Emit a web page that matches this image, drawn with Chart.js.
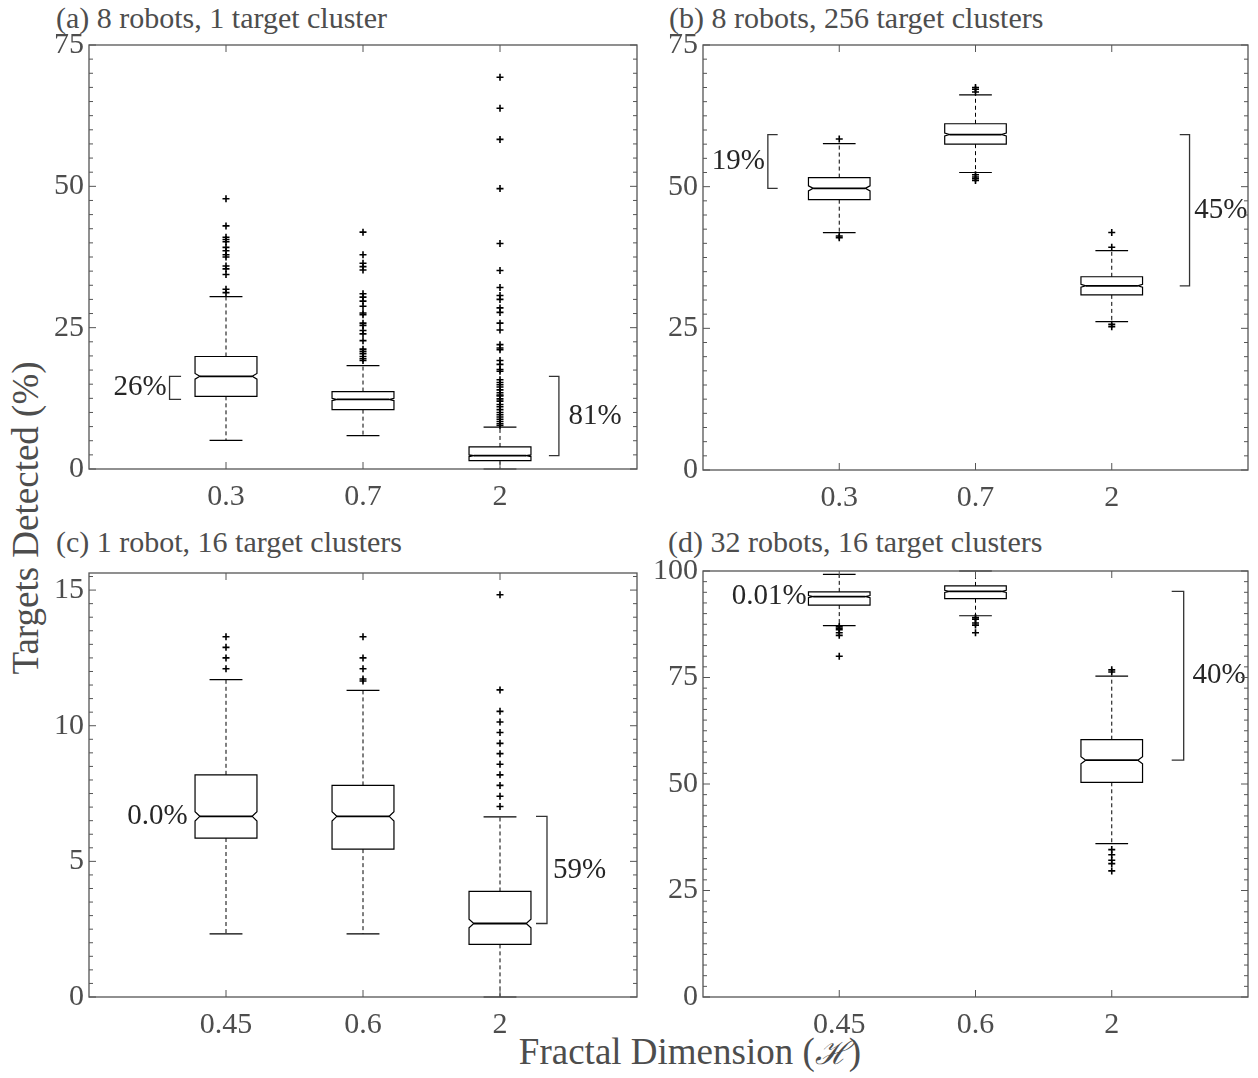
<!DOCTYPE html>
<html>
<head>
<meta charset="utf-8">
<script src="https://cdn.jsdelivr.net/npm/chart.js@4.4.1/dist/chart.umd.min.js"></script>
<style>
  body { margin: 0; background: #fff; }
  #page { position: relative; width: 1258px; height: 1078px; overflow: hidden;
          font-family: 'Liberation Serif', 'Times New Roman', serif; color: #4d4d4d; }
  .panel { position: absolute; }
  .ttl { position: absolute; font-size: 30px; line-height: 34px; white-space: nowrap; }
  .axt { position: absolute; font-size: 37px; line-height: 44px; white-space: nowrap; }
</style>
</head>
<body>
<div id="page">
  <div class="ttl" style="left:56px;top:1px">(a) 8 robots, 1 target cluster</div>
  <div class="ttl" style="left:669px;top:1px">(b) 8 robots, 256 target clusters</div>
  <div class="ttl" style="left:56px;top:525px">(c) 1 robot, 16 target clusters</div>
  <div class="ttl" style="left:668px;top:525px">(d) 32 robots, 16 target clusters</div>
  <div class="axt" style="left:26px;top:518px;transform:translate(-50%,-50%) rotate(-90deg)">Targets Detected (%)</div>
  <div class="axt" style="left:690px;top:1052px;transform:translate(-50%,-50%)">Fractal Dimension (<span style="font-family:'DejaVu Serif',serif;font-style:italic;font-size:32px">ℋ</span>)</div>

  <div class="panel" style="left:0;top:0"><canvas id="cA" width="660" height="520"></canvas></div>
  <div class="panel" style="left:640px;top:0"><canvas id="cB" width="618" height="520"></canvas></div>
  <div class="panel" style="left:0;top:520px"><canvas id="cC" width="660" height="540"></canvas></div>
  <div class="panel" style="left:640px;top:520px"><canvas id="cD" width="618" height="540"></canvas></div>
</div>

<script>
// ---- data ----
// (a) 8 robots, 1 target cluster
const catsA = ['0.3', '0.7', '2'];
const q1A = [12.85, 10.5, 1.47];
const medA = [16.4, 12.3, 2.36];
const q3A = [19.9, 13.7, 3.9];
const whisLoA = [5.07, 5.9, 0];
const whisHiA = [30.5, 18.3, 7.4];
const notchLoA = [15.9, 12.1, 2.2];
const notchHiA = [16.9, 12.5, 2.5];
const outA = [
  [47.8, 43.0, 41.0, 40.6, 40.2, 39.2, 38.6, 37.9, 37.5, 35.9, 35.4, 34.4, 31.8, 31.2],
  [41.9, 37.9, 36.4, 35.8, 35.2, 31.0, 30.4, 29.7, 28.8, 27.6, 27.3, 25.8, 25.4, 24.5, 23.9, 22.7,
   21.2, 20.8, 20.4, 19.9, 19.5, 19.2],
  [69.3, 63.8, 58.3, 49.6, 39.9, 35.1, 32.1, 30.7, 30.0, 28.5, 27.7, 25.8, 24.6, 22.0, 21.4, 21.1,
   19.2, 18.5, 17.6, 17.3, 15.8, 15.3, 14.9, 14.5, 14.0, 13.5, 13.1, 12.9, 12.4, 12.0, 11.4, 11.0,
   10.5, 10.0, 9.6, 9.2, 8.8, 8.4, 8.0, 7.7]
];
const notesA = ['26%', '81%'];

// (b) 8 robots, 256 target clusters
const catsB = ['0.3', '0.7', '2'];
const q1B = [47.7, 57.5, 30.9];
const medB = [49.7, 59.2, 32.5];
const q3B = [51.6, 61.1, 34.1];
const whisLoB = [41.9, 52.5, 26.2];
const whisHiB = [57.6, 66.2, 38.7];
const notchLoB = [49.25, 58.95, 32.25];
const notchHiB = [50.15, 59.45, 32.75];
const outB = [
  [58.4, 41.3, 41.0],
  [67.5, 67.2, 66.7, 52.1, 51.7, 51.4, 51.1],
  [41.9, 39.3, 25.7, 25.3]
];
const notesB = ['19%', '45%'];

// (c) 1 robot, 16 target clusters
const catsC = ['0.45', '0.6', '2'];
const q1C = [5.86, 5.45, 1.94];
const medC = [6.66, 6.66, 2.71];
const q3C = [8.19, 7.8, 3.89];
const whisLoC = [2.33, 2.33, 0];
const whisHiC = [11.7, 11.3, 6.64];
const notchLoC = [6.49, 6.49, 2.55];
const notchHiC = [6.83, 6.83, 2.87];
const outC = [
  [13.28, 12.89, 12.5, 12.1],
  [13.28, 12.5, 12.1, 11.72, 11.65],
  [14.83, 11.32, 10.53, 10.14, 9.75, 9.35, 8.97, 8.58, 8.19, 7.8, 7.4, 7.02]
];
const notesC = ['0.0%', '59%'];

// (d) 32 robots, 16 target clusters
const catsD = ['0.45', '0.6', '2'];
const q1D = [92.0, 93.5, 50.4];
const medD = [94.0, 95.2, 55.6];
const q3D = [95.1, 96.5, 60.4];
const whisLoD = [87.2, 89.5, 36.0];
const whisHiD = [99.2, 100, 75.3];
const notchLoD = [93.75, 94.95, 54.75];
const notchHiD = [94.25, 95.45, 56.4];
const outD = [
  [87.0, 86.6, 86.2, 85.5, 84.9, 80.0],
  [89.1, 88.7, 87.8, 87.3, 85.5],
  [76.8, 76.3, 34.6, 33.4, 32.1, 31.3, 29.6]
];
const notesD = ['0.01%', '40%'];

const yTicksA = [0, 25, 50, 75];
const yTicksB = [0, 25, 50, 75];
const yTicksC = [0, 5, 10, 15];
const yTicksD = [0, 25, 50, 75, 100];

// ---- drawing ----
const tickFont = { family: "'Liberation Serif', 'Times New Roman', serif", size: 30 };
const textCol = '#4d4d4d';

const boxPlugin = p => ({
  id: 'boxes',
  afterDatasetsDraw(chart) {
    const { ctx, scales: { x, y } } = chart;
    const ux = x.getPixelForValue(1) - x.getPixelForValue(0);
    const line = (x1, y1, x2, y2) => { ctx.beginPath(); ctx.moveTo(x1, y1); ctx.lineTo(x2, y2); ctx.stroke(); };
    ctx.save();
    ctx.strokeStyle = '#000';
    p.cats.forEach((c, i) => {
      const cx = x.getPixelForValue(i + 1);
      const hw = 0.226 * ux, cw = 0.12 * ux, nd = 0.035 * ux;
      const yq1 = y.getPixelForValue(p.q1[i]), yq3 = y.getPixelForValue(p.q3[i]);
      const ymed = y.getPixelForValue(p.med[i]);
      const ylo = y.getPixelForValue(p.lo[i]), yhi = y.getPixelForValue(p.hi[i]);
      const ynlo = y.getPixelForValue(p.nlo[i]), ynhi = y.getPixelForValue(p.nhi[i]);
      ctx.lineWidth = 1;
      ctx.setLineDash([4, 3]);
      line(cx, yq3, cx, yhi);
      line(cx, yq1, cx, ylo);
      ctx.setLineDash([]);
      ctx.lineWidth = 1.2;
      line(cx - cw, yhi, cx + cw, yhi);
      line(cx - cw, ylo, cx + cw, ylo);
      ctx.beginPath();
      ctx.moveTo(cx - hw, yq1);
      ctx.lineTo(cx - hw, ynlo);
      ctx.lineTo(cx - hw + nd, ymed);
      ctx.lineTo(cx - hw, ynhi);
      ctx.lineTo(cx - hw, yq3);
      ctx.lineTo(cx + hw, yq3);
      ctx.lineTo(cx + hw, ynhi);
      ctx.lineTo(cx + hw - nd, ymed);
      ctx.lineTo(cx + hw, ynlo);
      ctx.lineTo(cx + hw, yq1);
      ctx.closePath();
      ctx.stroke();
      ctx.lineWidth = 1.8;
      line(cx - hw + nd, ymed, cx + hw - nd, ymed);
    });

    // brackets and percentage labels
    ctx.strokeStyle = '#333';
    ctx.lineWidth = 1.3;
    ctx.fillStyle = '#262626';
    ctx.font = "29px 'Liberation Serif', 'Times New Roman', serif";
    ctx.textBaseline = 'middle';
    p.notes.forEach(n => {
      let ym;
      if (n.to !== undefined) {
        const y1 = y.getPixelForValue(p.med[n.from]), y2 = y.getPixelForValue(p.med[n.to]);
        const bx = x.getPixelForValue(n.x), tx = x.getPixelForValue(n.x + n.tick);
        ctx.beginPath();
        ctx.moveTo(tx, y1); ctx.lineTo(bx, y1); ctx.lineTo(bx, y2); ctx.lineTo(tx, y2);
        ctx.stroke();
        ym = (y1 + y2) / 2;
      } else {
        ym = y.getPixelForValue(p.med[n.from]);
      }
      ctx.textAlign = n.align;
      ctx.fillText(n.text, x.getPixelForValue(n.lx), ym);
    });
    ctx.restore();
  },
  afterDraw(chart) {
    const { ctx, chartArea: a, scales: { x, y } } = chart;
    const line = (x1, y1, x2, y2) => { ctx.beginPath(); ctx.moveTo(x1, y1); ctx.lineTo(x2, y2); ctx.stroke(); };
    ctx.save();
    ctx.strokeStyle = '#555';
    ctx.lineWidth = 1.3;
    ctx.strokeRect(a.left, a.top, a.right - a.left, a.bottom - a.top);
    ctx.lineWidth = 1;
    p.yTicks.forEach(v => {
      const py = y.getPixelForValue(v);
      line(a.left, py, a.left + 7, py);
      line(a.right, py, a.right - 7, py);
    });
    const step = (p.yTicks[1] - p.yTicks[0]) / 10;
    for (let k = 1; k * step < p.yMax; k++) {
      if (k % 10 === 0) continue;
      const py = y.getPixelForValue(k * step);
      line(a.left, py, a.left + 4, py);
      line(a.right, py, a.right - 4, py);
    }
    p.cats.forEach((c, i) => {
      const px = x.getPixelForValue(i + 1);
      line(px, a.bottom, px, a.bottom - 7);
      line(px, a.top, px, a.top + 7);
    });
    ctx.restore();
  }
});

function makePanel(id, p) {
  const pts = [];
  p.out.forEach((list, i) => list.forEach(v => pts.push({ x: i + 1, y: v })));
  new Chart(document.getElementById(id), {
    type: 'scatter',
    data: {
      datasets: [{
        data: pts,
        pointStyle: 'cross',
        pointRadius: 3.5,
        borderColor: '#000',
        backgroundColor: '#000',
        borderWidth: 1.6
      }]
    },
    options: {
      responsive: false,
      animation: false,
      events: [],
      layout: { padding: p.pad },
      plugins: { legend: { display: false }, tooltip: { enabled: false } },
      scales: {
        x: {
          type: 'linear', min: 0, max: 4,
          grid: { display: false, drawTicks: false }, border: { display: false },
          afterBuildTicks: s => { s.ticks = p.cats.map((c, i) => ({ value: i + 1 })); },
          afterFit: s => { s.height = 50; },
          ticks: { callback: v => p.cats[v - 1], font: tickFont, color: textCol, padding: 10,
                   maxRotation: 0, autoSkip: false }
        },
        y: {
          min: 0, max: p.yMax,
          grid: { display: false, drawTicks: false }, border: { display: false },
          afterBuildTicks: s => { s.ticks = p.yTicks.map(v => ({ value: v })); },
          afterFit: s => { s.width = 60; },
          ticks: { font: tickFont, color: textCol, padding: 5 }
        }
      }
    },
    plugins: [boxPlugin(p)]
  });
}

makePanel('cA', {
  cats: catsA, q1: q1A, med: medA, q3: q3A, lo: whisLoA, hi: whisHiA, nlo: notchLoA, nhi: notchHiA, out: outA,
  yTicks: yTicksA, yMax: 75,
  pad: { left: 29, top: 45, right: 23, bottom: 1 },
  notes: [
    { from: 0, to: 1, text: notesA[0], x: 0.588, tick: 0.084, lx: 0.567, align: 'right' },
    { from: 0, to: 2, text: notesA[1], x: 3.43, tick: -0.073, lx: 3.50, align: 'left' }
  ]
});

makePanel('cB', {
  cats: catsB, q1: q1B, med: medB, q3: q3B, lo: whisLoB, hi: whisHiB, nlo: notchLoB, nhi: notchHiB, out: outB,
  yTicks: yTicksB, yMax: 75,
  pad: { left: 3, top: 45, right: 10, bottom: 0 },
  notes: [
    { from: 1, to: 0, text: notesB[0], x: 0.476, tick: 0.072, lx: 0.455, align: 'right' },
    { from: 1, to: 2, text: notesB[1], x: 3.571, tick: -0.072, lx: 3.606, align: 'left' }
  ]
});

makePanel('cC', {
  cats: catsC, q1: q1C, med: medC, q3: q3C, lo: whisLoC, hi: whisHiC, nlo: notchLoC, nhi: notchHiC, out: outC,
  yTicks: yTicksC, yMax: 15.63,
  pad: { left: 29, top: 53, right: 23, bottom: 13 },
  notes: [
    { from: 0, text: notesC[0], lx: 0.721, align: 'right' },
    { from: 0, to: 2, text: notesC[1], x: 3.343, tick: -0.08, lx: 3.387, align: 'left' }
  ]
});

makePanel('cD', {
  cats: catsD, q1: q1D, med: medD, q3: q3D, lo: whisLoD, hi: whisHiD, nlo: notchLoD, nhi: notchHiD, out: outD,
  yTicks: yTicksD, yMax: 100,
  pad: { left: 3, top: 51, right: 10, bottom: 13 },
  notes: [
    { from: 0, text: notesD[0], lx: 0.761, align: 'right' },
    { from: 1, to: 2, text: notesD[1], x: 3.528, tick: -0.088, lx: 3.592, align: 'left' }
  ]
});
</script>
</body>
</html>
